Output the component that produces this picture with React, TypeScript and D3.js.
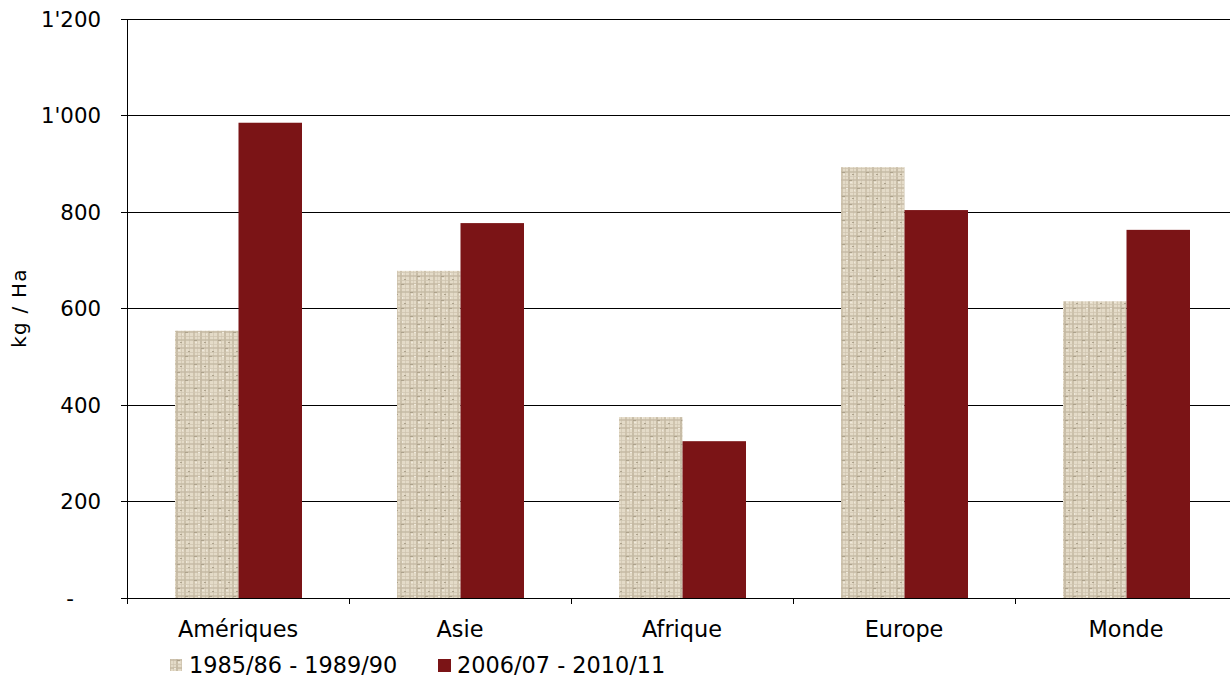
import React from "react";
import * as d3 from "d3";

const categories = ["Amériques", "Asie", "Afrique", "Europe", "Monde"];
const series1 = [554, 678, 375, 893, 615];
const series2 = [985, 777, 325, 804, 763];
const seriesNames = ["1985/86 - 1989/90", "2006/07 - 2010/11"];
const yTicks = [0, 200, 400, 600, 800, 1000, 1200];

const W = 1230, H = 678;
const left = 127, top = 19, bottom = 598;
const bandW = 222;

const fmt = (v: number) => (v === 0 ? "-" : d3.format(",")(v).replace(/,/g, "'"));

export default function App() {
  const x = d3.scaleBand<string>().domain(categories).range([left, left + bandW * categories.length]).paddingInner(0).paddingOuter(0);
  const y = d3.scaleLinear().domain([0, 1200]).range([bottom, top]);
  const barW = 63.5;
  const off = 48;
  const font = "'DejaVu Sans', Verdana, sans-serif";
  const vLines: [number, number, string][] = [[1, 2, "#c9bea8"], [5, 1, "#d3c9b5"], [8, 2, "#c0b59f"], [13, 1, "#cfc4af"], [16, 2, "#c5baa4"], [21, 1, "#d1c7b3"]];
  const hLines: [number, number, string][] = [[0, 1, "#cdc2ad"], [3, 2, "#c4b9a3"], [8, 1, "#d0c6b2"], [11, 2, "#c5baa4"], [16, 1, "#cec3ae"], [19, 2, "#c3b8a2"]];
  const lights: [number, number, number, number][] = [[3, 6, 2, 1], [10, 14, 2, 1], [18, 9, 1, 2], [6, 20, 2, 1], [14, 22, 1, 1]];
  const darks: [number, number, number, number][] = [[2, 4, 3, 1], [9, 12, 3, 1], [17, 20, 3, 1], [12, 6, 2, 1], [20, 15, 2, 1]];
  return (
    <svg width={W} height={H} style={{ position: "absolute", left: 0, top: 0, background: "#fff" }}>
      <defs>
        <pattern id="burlap" width="24" height="24" patternUnits="userSpaceOnUse">
          <rect width="24" height="24" fill="#e4dbc8" />
          {vLines.map(([p, w, c], i) => (
            <rect key={"v" + i} x={p} y={0} width={w} height={24} fill={c} opacity={0.8} />
          ))}
          {hLines.map(([p, w, c], i) => (
            <rect key={"h" + i} x={0} y={p} width={24} height={w} fill={c} opacity={0.7} />
          ))}
          {lights.map(([a, b, w, h], i) => (
            <rect key={"l" + i} x={a} y={b} width={w} height={h} fill="#efe9dc" />
          ))}
          {darks.map(([a, b, w, h], i) => (
            <rect key={"d" + i} x={a} y={b} width={w} height={h} fill="#ada28c" />
          ))}
        </pattern>
      </defs>
      {yTicks.map((t) => (
        <g key={t}>
          <line x1={121} x2={W} y1={y(t)} y2={y(t)} stroke="#000" strokeWidth={1} shapeRendering="crispEdges" />
          <text x={t === 0 ? 74 : 101} y={y(t)} dy="0.36em" textAnchor="end" fontFamily={font} fontSize={21.3} fill="#000">
            {fmt(t)}
          </text>
        </g>
      ))}
      {categories.map((c, i) => (
        <g key={c}>
          <rect x={(x(c) as number) + off} y={y(series1[i])} width={barW} height={bottom - y(series1[i])} fill="url(#burlap)" />
          <rect x={(x(c) as number) + off + barW} y={y(series2[i])} width={barW} height={bottom - y(series2[i])} fill="#7b1416" />
          <line x1={x(c) as number} x2={x(c) as number} y1={bottom} y2={bottom + 6} stroke="#000" shapeRendering="crispEdges" />
          <text x={(x(c) as number) + bandW / 2} y={637} textAnchor="middle" fontFamily={font} fontSize={22.4} fill="#000">
            {c}
          </text>
        </g>
      ))}
      <line x1={left} x2={left} y1={top} y2={bottom} stroke="#000" shapeRendering="crispEdges" />
      <line x1={left} x2={W} y1={bottom} y2={bottom} stroke="#000" shapeRendering="crispEdges" />
      <text transform={`translate(26,308) rotate(-90)`} textAnchor="middle" fontFamily={font} fontSize={20} letterSpacing={1.2} fill="#000">
        kg / Ha
      </text>
      <rect x={170} y={659} width={12} height={12} fill="url(#burlap)" />
      <text x={189} y={673} fontFamily={font} fontSize={22.4} fill="#000">{seriesNames[0]}</text>
      <rect x={438} y={659} width={13} height={13} fill="#7b1416" />
      <text x={457} y={673} fontFamily={font} fontSize={22.4} fill="#000">{seriesNames[1]}</text>
    </svg>
  );
}
